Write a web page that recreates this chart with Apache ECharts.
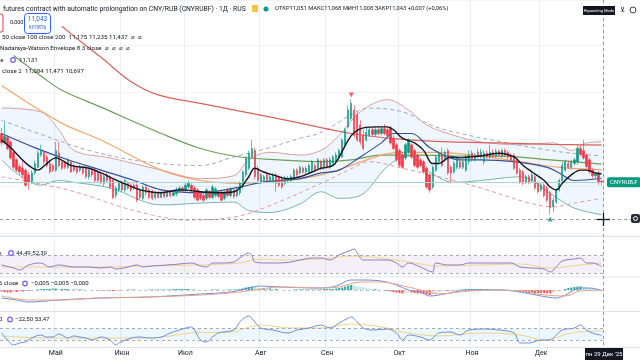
<!DOCTYPE html>
<html><head><meta charset="utf-8">
<script src="https://cdn.jsdelivr.net/npm/echarts@6.0.0/dist/echarts.min.js"></script>
<style>html,body{margin:0;padding:0;background:#fff}#c{width:640px;height:360px}</style>
</head><body><div id="c"></div>
<script>
// ---- daily candles [open, close, low, high] ----
const candles = [
[11.56,11.46,11.43,11.62],[11.46,11.53,11.44,11.68],[11.52,11.40,11.38,11.54],[11.47,11.30,11.28,11.49],[11.36,11.20,11.18,11.38],[11.28,11.17,11.15,11.30],[11.21,11.15,11.12,11.24],[11.19,11.12,11.08,11.28],[11.17,11.01,10.99,11.19],[11.12,11.04,10.96,11.15],
[11.04,11.14,11.02,11.17],[11.14,11.24,11.12,11.27],[11.20,11.35,11.19,11.38],[11.33,11.38,11.31,11.44],[11.36,11.26,11.23,11.38],[11.31,11.22,11.20,11.33],[11.24,11.15,11.13,11.28],[11.22,11.17,11.15,11.24],[11.17,11.38,11.15,11.47],[11.35,11.22,11.20,11.47],
[11.26,11.19,11.17,11.28],[11.24,11.20,11.18,11.27],[11.20,11.28,11.18,11.30],[11.26,11.15,11.14,11.28],[11.22,11.17,11.15,11.24],[11.20,11.15,11.13,11.22],[11.17,11.20,11.15,11.23],[11.19,11.14,11.12,11.21],[11.19,11.10,11.08,11.21],[11.10,11.17,11.07,11.19],
[11.17,11.12,11.10,11.19],[11.17,11.06,11.04,11.19],[11.14,11.06,11.04,11.16],[11.12,11.04,11.02,11.14],[11.03,11.10,11.00,11.12],[11.12,11.06,11.04,11.14],[11.10,10.99,10.97,11.12],[11.06,10.88,10.86,11.08],[10.90,10.98,10.87,11.00],[10.96,11.03,10.94,11.05],
[11.04,10.96,10.94,11.06],[10.96,11.06,10.94,11.08],[11.03,10.98,10.96,11.05],[11.01,10.96,10.94,11.03],[11.01,10.98,10.96,11.03],[11.01,10.85,10.83,11.03],[10.96,10.88,10.86,10.98],[10.87,10.99,10.85,11.01],[10.99,10.93,10.90,11.01],[10.96,10.88,10.86,10.98],
[10.94,10.87,10.85,10.96],[10.88,10.93,10.86,10.95],[10.93,10.88,10.87,10.95],[10.88,10.93,10.87,10.96],[10.93,10.89,10.87,10.95],[10.89,10.94,10.88,10.96],[10.94,10.90,10.88,10.96],[10.90,10.93,10.89,10.96],[10.92,10.96,10.89,10.99],[10.95,10.98,10.93,11.00],
[10.98,10.95,10.93,11.00],[10.96,11.01,10.94,11.04],[10.99,11.03,10.97,11.06],[11.01,10.96,10.94,11.03],[10.98,10.88,10.86,11.00],[10.96,10.85,10.84,10.98],[10.92,10.87,10.85,10.94],[10.90,10.85,10.83,10.93],[10.87,10.96,10.85,10.98],[10.94,10.88,10.86,10.96],
[10.88,10.99,10.86,11.01],[10.90,10.97,10.88,10.99],[10.94,10.89,10.87,10.96],[10.93,10.85,10.84,10.95],[10.87,10.93,10.85,10.95],[10.96,10.90,10.88,10.98],[10.90,10.97,10.88,10.99],[10.96,10.89,10.87,10.98],[10.90,10.96,10.88,10.98],[10.93,11.03,10.90,11.05],
[10.99,11.15,10.97,11.17],[11.12,11.30,11.10,11.32],[11.19,11.35,11.17,11.38],[11.31,11.40,11.30,11.49],[11.38,11.10,11.07,11.41],[11.19,11.06,11.04,11.22],[11.04,11.12,11.02,11.14],[11.06,11.10,11.04,11.12],[11.12,11.06,11.04,11.14],[11.06,11.10,11.04,11.12],
[11.06,11.12,11.04,11.14],[11.12,11.03,10.94,11.14],[11.10,11.01,10.99,11.12],[11.08,10.99,10.97,11.11],[11.03,11.08,11.01,11.11],[11.06,11.08,11.04,11.11],[11.06,11.10,11.04,11.12],[11.08,11.17,11.06,11.19],[11.17,11.12,11.10,11.19],[11.14,11.20,11.12,11.22],
[11.19,11.15,11.13,11.21],[11.15,11.19,11.13,11.21],[11.15,11.22,11.13,11.24],[11.17,11.26,11.15,11.28],[11.22,11.17,11.15,11.24],[11.19,11.28,11.17,11.30],[11.26,11.19,11.17,11.28],[11.19,11.28,11.17,11.30],[11.28,11.20,11.18,11.30],[11.20,11.28,11.18,11.31],
[11.24,11.31,11.22,11.33],[11.26,11.33,11.23,11.36],[11.30,11.38,11.28,11.40],[11.31,11.49,11.30,11.51],[11.44,11.60,11.41,11.62],[11.63,11.81,11.61,11.86],[11.72,11.88,11.70,11.92],[11.81,11.54,11.52,11.86],[11.76,11.49,11.47,11.79],[11.65,11.47,11.44,11.70],
[11.54,11.40,11.38,11.60],[11.49,11.57,11.47,11.62],[11.54,11.60,11.52,11.63],[11.60,11.55,11.53,11.63],[11.55,11.60,11.53,11.64],[11.60,11.56,11.54,11.63],[11.56,11.61,11.54,11.64],[11.61,11.56,11.54,11.66],[11.60,11.54,11.52,11.63],[11.62,11.46,11.44,11.64],
[11.51,11.40,11.38,11.54],[11.44,11.28,11.26,11.46],[11.38,11.22,11.20,11.40],[11.33,11.20,11.18,11.36],[11.30,11.44,11.28,11.46],[11.36,11.49,11.34,11.51],[11.44,11.31,11.29,11.46],[11.38,11.22,11.20,11.40],[11.33,11.20,11.18,11.35],[11.28,11.22,11.20,11.30],
[11.26,11.15,11.13,11.28],[11.19,10.99,10.97,11.21],[11.12,10.96,10.93,11.14],[10.99,11.20,10.97,11.22],[11.17,11.31,11.15,11.33],[11.26,11.35,11.23,11.37],[11.33,11.22,11.20,11.41],[11.28,11.36,11.26,11.38],[11.38,11.14,11.12,11.40],[11.20,11.14,11.03,11.22],
[11.15,11.24,11.13,11.27],[11.20,11.28,11.18,11.30],[11.26,11.20,11.18,11.28],[11.20,11.26,11.18,11.28],[11.17,11.31,11.15,11.33],[11.26,11.33,11.23,11.38],[11.35,11.28,11.26,11.38],[11.28,11.33,11.26,11.35],[11.36,11.31,11.29,11.40],[11.31,11.36,11.29,11.40],
[11.26,11.35,11.23,11.38],[11.35,11.31,11.29,11.38],[11.31,11.36,11.29,11.44],[11.36,11.32,11.30,11.39],[11.32,11.37,11.30,11.40],[11.37,11.33,11.31,11.39],[11.32,11.38,11.30,11.40],[11.38,11.33,11.31,11.40],[11.36,11.31,11.29,11.38],[11.33,11.28,11.26,11.35],
[11.33,11.19,11.17,11.35],[11.26,11.14,11.12,11.28],[11.17,11.04,11.02,11.19],[11.15,11.03,11.01,11.17],[11.04,11.10,11.02,11.12],[11.10,11.04,11.02,11.12],[11.06,11.12,11.04,11.15],[11.10,10.98,10.96,11.12],[11.03,10.94,10.92,11.05],[10.96,11.01,10.94,11.03],
[11.01,10.90,10.88,11.03],[10.98,10.85,10.83,11.00],[10.93,10.77,10.70,10.95],[10.78,10.85,10.72,10.88],[10.83,10.96,10.81,10.98],[10.96,11.06,10.94,11.08],[11.06,11.22,11.04,11.26],[11.17,11.26,11.15,11.28],[11.24,11.20,11.18,11.27],[11.20,11.26,11.18,11.28],
[11.24,11.28,11.22,11.30],[11.26,11.40,11.23,11.44],[11.40,11.34,11.32,11.43],[11.38,11.30,11.28,11.49],[11.33,11.21,11.19,11.35],[11.28,11.15,11.13,11.30],[11.17,11.11,11.08,11.19],[11.11,11.13,11.08,11.15],[11.14,11.036,11.01,11.16],[11.051,11.043,11.008,11.068]
];
// month tick labels: bar index -> label
const monthTicks = {18:'Май',40:'Июн',61:'Июл',86:'Авг',108:'Сен',132:'Окт',156:'Ноя',179:'Дек'};
// moving averages [barIndex, value]
const ma50  = [[0,12.07],[20,11.67],[33,11.49],[53,11.17],[66,11.06],[79,11.03],[92,11.05],[106,11.12],[116,11.22],[126,11.33],[132,11.36],[145,11.36],[159,11.32],[172,11.26],[185,11.20],[199,11.175]];
const ma100 = [[4,12.39],[14,12.15],[20,12.02],[33,11.84],[53,11.56],[66,11.40],[79,11.31],[92,11.28],[106,11.26],[116,11.28],[126,11.33],[139,11.33],[152,11.32],[165,11.32],[182,11.28],[199,11.235]];
const ma200 = [[20,12.70],[27,12.52],[33,12.37],[43,12.11],[52,11.97],[66,11.88],[82,11.78],[99,11.67],[116,11.56],[132,11.50],[149,11.47],[165,11.46],[182,11.445],[199,11.437]];
const emaFast = [[0,11.49],[3,11.41],[6,11.31],[9,11.22],[12,11.17],[15,11.24],[18,11.30],[23,11.22],[29,11.19],[33,11.14],[37,11.08],[42,11.01],[46,10.96],[53,10.93],[59,10.96],[66,10.94],[72,10.93],[77,10.94],[80,11.01],[82,11.10],[84,11.19],[87,11.15],[90,11.12],[95,11.08],[99,11.10],[103,11.15],[106,11.19],[110,11.22],[112,11.31],[115,11.49],[117,11.57],[120,11.62],[125,11.63],[128,11.63],[130,11.60],[133,11.51],[137,11.46],[140,11.38],[143,11.24],[145,11.24],[149,11.31],[152,11.30],[155,11.31],[159,11.32],[165,11.35],[170,11.31],[173,11.22],[176,11.15],[180,11.06],[182,10.99],[184,10.96],[186,11.03],[189,11.12],[192,11.17],[194,11.17],[197,11.14],[199,11.131]];
// Bollinger bands (20, 2)
const bbBasis = [[0,11.56],[11,11.41],[22,11.28],[33,11.17],[44,11.06],[53,10.96],[66,10.93],[79,10.99],[86,11.04],[92,11.06],[99,11.08],[106,11.14],[112,11.17],[119,11.31],[126,11.46],[130,11.56],[136,11.56],[142,11.41],[148,11.31],[152,11.28],[159,11.28],[170,11.26],[181,11.20],[185,11.14],[190,11.06],[199,11.084]];
const bbUpper = [[0,11.83],[13,11.79],[19,11.60],[24,11.38],[36,11.30],[53,11.17],[66,11.08],[77,11.11],[82,11.28],[89,11.36],[99,11.33],[106,11.38],[112,11.54],[119,11.79],[128,11.92],[135,11.81],[141,11.65],[150,11.54],[159,11.47],[172,11.44],[183,11.46],[189,11.38],[194,11.46],[199,11.471]];
const bbLower = [[0,11.28],[13,11.01],[19,11.06],[24,11.04],[36,10.98],[53,10.80],[66,10.82],[77,10.83],[82,10.74],[89,10.72],[99,10.81],[106,10.94],[112,10.87],[119,10.90],[128,11.21],[135,11.32],[141,11.17],[150,11.04],[159,11.06],[172,11.10],[183,10.90],[189,10.78],[194,10.73],[199,10.697]];
// Nadaraya-Watson envelope
const nwUpper = [[0,11.70],[14,11.54],[29,11.38],[47,11.26],[66,11.22],[77,11.31],[88,11.40],[99,11.51],[106,11.57],[117,11.78],[122,11.83],[133,11.79],[144,11.63],[155,11.54],[166,11.47],[178,11.40],[189,11.35],[199,11.32]];
const nwLower = [[0,11.10],[22,10.96],[44,10.74],[62,10.64],[77,10.67],[88,10.78],[106,11.03],[117,11.20],[122,11.26],[133,11.19],[150,11.06],[161,10.96],[174,10.83],[183,10.78],[190,10.82],[199,10.87]];
const signalUp = [[116,11.97]];
const signalDown = [[182,10.65]];
const lastClose = 11.043;
// RSI
const rsi = [[0,47.8],[4,41.1],[6,36.7],[9,47.8],[13,52.2],[16,43.3],[19,47.8],[24,43.3],[29,43.3],[33,41.1],[36,43.3],[38,38.9],[42,43.3],[45,47.8],[47,43.3],[50,45.6],[55,47.8],[59,50.0],[63,52.2],[66,45.6],[68,43.3],[70,52.2],[73,52.2],[77,54.4],[79,63.3],[82,74.4],[83,70.0],[84,54.4],[88,52.2],[92,52.2],[96,54.4],[99,58.9],[103,63.3],[106,63.3],[109,58.9],[112,70.0],[116,81.1],[117,83.3],[118,74.4],[120,58.9],[123,58.9],[128,58.9],[131,52.2],[133,43.3],[135,52.2],[139,43.3],[141,36.7],[143,32.2],[144,52.2],[148,47.8],[152,47.8],[155,52.2],[159,52.2],[164,52.2],[169,52.2],[172,43.3],[176,41.1],[180,38.9],[182,32.2],[184,43.3],[186,56.7],[190,61.1],[192,63.3],[194,52.2],[196,52.2],[199,44.49]];
const rsiMa = [[0,43.3],[16,43.3],[33,43.3],[49,45.6],[66,47.8],[79,52.2],[86,61.1],[92,58.9],[106,61.1],[116,67.8],[126,63.3],[135,54.4],[145,45.6],[159,47.8],[172,50.0],[182,41.1],[189,45.6],[199,52.39]];
// MACD
const macdLine = [[0,-0.16],[5,-0.20],[9,-0.24],[19,-0.20],[33,-0.16],[49,-0.14],[66,-0.08],[76,-0.04],[82,0.04],[86,0.08],[92,0.06],[106,0.04],[111,0.08],[116,0.20],[119,0.20],[126,0.18],[131,0.10],[135,0.00],[139,-0.04],[142,-0.12],[147,-0.08],[155,0.00],[165,0.00],[172,-0.04],[179,-0.12],[184,-0.16],[187,-0.10],[192,0.04],[195,0.04],[199,-0.005]];
const macdSignal = [[0,-0.12],[9,-0.20],[19,-0.20],[33,-0.16],[49,-0.14],[66,-0.10],[79,-0.04],[86,0.02],[92,0.06],[106,0.04],[112,0.06],[119,0.16],[126,0.16],[132,0.10],[139,0.00],[145,-0.08],[152,-0.04],[162,0.00],[172,-0.02],[180,-0.10],[187,-0.12],[192,-0.02],[199,-0.005]];
const macdHist = [
-0.03,-0.04,-0.05,-0.05,-0.04,-0.04,-0.03,-0.03,-0.02,-0.02,
-0.01,0.00,0.01,0.02,0.02,0.02,0.02,0.03,0.03,0.02,
0.02,0.02,0.02,0.01,0.01,0.01,0.01,0.01,0.00,0.00,
0.00,0.00,-0.01,-0.01,-0.01,-0.01,-0.02,-0.02,-0.01,-0.01,
0.00,0.00,0.01,0.01,0.01,0.00,0.00,0.00,0.00,0.01,
0.01,0.01,0.01,0.01,0.01,0.01,0.01,0.02,0.02,0.02,
0.02,0.02,0.02,0.01,0.01,0.00,0.00,0.00,0.00,0.00,
0.01,0.01,0.01,0.00,0.00,0.01,0.01,0.01,0.01,0.02,
0.03,0.05,0.06,0.07,0.06,0.05,0.04,0.04,0.03,0.03,
0.02,0.02,0.01,0.00,0.00,0.00,0.00,0.01,0.01,0.01,
0.01,0.01,0.01,0.01,0.01,0.01,0.01,0.02,0.02,0.02,
0.02,0.03,0.04,0.05,0.07,0.09,0.10,0.09,0.07,0.06,
0.05,0.04,0.03,0.02,0.02,0.01,0.00,-0.01,-0.02,-0.03,
-0.04,-0.05,-0.06,-0.07,-0.06,-0.05,-0.05,-0.06,-0.07,-0.07,
-0.08,-0.09,-0.10,-0.08,-0.06,-0.04,-0.03,-0.02,-0.02,-0.01,
-0.01,0.00,0.01,0.01,0.02,0.02,0.02,0.02,0.02,0.02,
0.02,0.02,0.02,0.01,0.01,0.01,0.01,0.00,0.00,-0.01,
-0.02,-0.03,-0.04,-0.05,-0.05,-0.05,-0.05,-0.06,-0.06,-0.06,
-0.06,-0.07,-0.07,-0.06,-0.04,-0.02,0.00,0.02,0.04,0.05,
0.06,0.07,0.07,0.06,0.05,0.04,0.03,0.02,0.01,-0.005];
// CCI
const cci = [[0,16.7],[2,-100],[4,-183],[6,-150],[8,-133],[10,-67],[13,-17],[15,-50],[17,-50],[19,0],[22,-67],[24,-33],[26,-50],[28,-67],[30,-100],[33,-50],[36,-100],[38,-183],[39,-150],[43,-67],[46,-50],[49,-67],[53,-50],[56,16.7],[59,66.7],[63,116.7],[64,66.7],[66,-100],[68,-133],[70,-50],[72,16.7],[77,66.7],[79,200],[81,283],[82,300],[84,200],[86,100],[90,66.7],[95,16.7],[98,66.7],[102,100],[106,150],[109,100],[112,183],[115,267],[116,283],[118,200],[120,100],[123,66.7],[128,83.3],[131,16.7],[133,-100],[135,-16.7],[139,-50],[142,-100],[145,16.7],[149,33.3],[152,-16.7],[155,66.7],[161,83.3],[165,66.7],[170,16.7],[172,-150],[175,-150],[179,-100],[182,-100],[184,-16.7],[186,66.7],[190,100],[192,150],[194,66.7],[196,16.7],[199,-22.5]];
const cciMa = [[0,-33],[16,-67],[33,-67],[49,-67],[63,17],[76,33],[86,150],[96,100],[106,100],[116,167],[126,117],[135,17],[145,-33],[159,17],[172,-17],[180,-100],[189,17],[199,53.47]];

const cats = candles.map((_, i) => i);
const isMonth = (i) => monthTicks[i] !== undefined;
const FONT = 'Roboto, "Liberation Sans", sans-serif';
const GRID_R = 37;

function xAx(gi, labels) {
  return {
    type: 'category', gridIndex: gi, data: cats, boundaryGap: true,
    axisLine: {show: false}, axisTick: {show: false},
    axisLabel: labels ? {show: true, interval: (i) => isMonth(i), formatter: (v, i) => monthTicks[i] || '',
      color: '#131722', fontSize: 7, fontFamily: FONT, margin: 3} : {show: false},
    splitLine: {show: true, interval: (i) => isMonth(i), lineStyle: {color: '#eceef3', width: 1}}
  };
}
function yAx(gi, min, max, split) {
  return {type: 'value', gridIndex: gi, min, max, scale: true,
    axisLine: {show: false}, axisTick: {show: false}, axisLabel: {show: false},
    splitLine: {show: !!split, lineStyle: {color: '#f3f4f7'}}};
}
function ln(data, color, xi, width, extra) {
  return Object.assign({type: 'line', data, xAxisIndex: xi, yAxisIndex: xi, showSymbol: false,
    smooth: 0.35, silent: true, lineStyle: {color, width: width || 1}, z: 3}, extra || {});
}

const chart = echarts.init(document.getElementById('c'), null, {renderer: 'canvas'});
const option = {
  animation: false,
  backgroundColor: '#ffffff',
  grid: [
    {left: 0, right: GRID_R, top: 0, height: 235},
    {left: 0, right: GRID_R, top: 238, height: 38},
    {left: 0, right: GRID_R, top: 278, height: 33},
    {left: 0, right: GRID_R, top: 312, height: 35}
  ],
  xAxis: [xAx(0, false), xAx(1, false), xAx(2, false), xAx(3, true)],
  yAxis: [yAx(0, 10.48, 12.98, true), yAx(1, 23.3, 107.8), yAx(2, -0.42, 0.24), yAx(3, -216.7, 366.7)],
  series: [
    {type: 'custom', xAxisIndex: 0, yAxisIndex: 0, silent: true, z: 1, data: [[0, bbUpper[0][1]]],
      renderItem: (params, api) => {
        const top = bbUpper.map(p => api.coord(p));
        const bot = bbLower.map(p => api.coord(p)).reverse();
        return {type: 'polygon', shape: {points: top.concat(bot), smooth: 0.3}, style: {fill: 'rgba(66,140,230,0.08)'}};
      }},
    ln(bbUpper, '#d9a0a0', 0, 1),
    ln(bbLower, '#79b4ad', 0, 1),
    ln(nwUpper, '#9aaac2', 0, 1, {lineStyle: {color: '#9aaac2', width: 1, type: [4, 3]}}),
    ln(nwLower, '#e59a9a', 0, 1, {lineStyle: {color: '#e59a9a', width: 1, type: [4, 3]}}),
    ln(ma200, '#d9625d', 0, 1.2),
    ln(ma100, '#6e9f5a', 0, 1.2),
    ln(ma50, '#f2a772', 0, 1.2),
    ln(bbBasis, '#34509c', 0, 1.2),
    {type: 'candlestick', xAxisIndex: 0, yAxisIndex: 0, data: candles, barWidth: 1.8, z: 4,
      itemStyle: {color: '#089981', color0: '#f23645', borderColor: '#089981', borderColor0: '#f23645', borderWidth: 0.6},
      markLine: {symbol: 'none', silent: true, animation: false,
        lineStyle: {color: '#a9d6cc', type: 'solid', width: 1},
        label: {show: true, position: 'end', formatter: 'CNYRUB,F', color: '#fff', backgroundColor: '#089981',
          fontSize: 6, fontFamily: FONT, padding: [2, 3, 2, 3], borderRadius: 2, distance: 4},
        data: [{yAxis: lastClose}]}},
    ln(emaFast, '#131722', 0, 1.4, {z: 5}),
    {type: 'scatter', xAxisIndex: 0, yAxisIndex: 0, data: signalUp, symbol: 'triangle', symbolRotate: 180, symbolSize: 5,
      itemStyle: {color: '#f23645'}, silent: true, z: 6},
    {type: 'scatter', xAxisIndex: 0, yAxisIndex: 0, data: signalDown, symbol: 'triangle', symbolSize: 5,
      itemStyle: {color: '#089981'}, silent: true, z: 6},
    // RSI
    ln(rsi, '#8e7cc3', 1, 1, {
      markArea: {silent: true, itemStyle: {color: 'rgba(126,87,194,0.09)'}, data: [[{yAxis: 30}, {yAxis: 70}]]},
      markLine: {symbol: 'none', silent: true, label: {show: false},
        lineStyle: {color: '#9598a1', type: [3, 3], width: 0.8}, data: [{yAxis: 70}, {yAxis: 30}]}}),
    ln(rsiMa, '#f2d48a', 1, 1, {z: 2}),
    // MACD
    {type: 'bar', xAxisIndex: 2, yAxisIndex: 2, data: macdHist, barWidth: 2, silent: true, z: 2,
      itemStyle: {color: (p) => {
        const v = p.value, prev = p.dataIndex > 0 ? macdHist[p.dataIndex - 1] : 0;
        if (v >= 0) return v >= prev ? '#26a69a' : '#b2dfdb';
        return v <= prev ? '#ff5252' : '#ffcdd2';
      }},
      markLine: {symbol: 'none', silent: true, label: {show: false},
        lineStyle: {color: '#b2b5be', type: [3, 3], width: 0.8}, data: [{yAxis: 0}]}},
    ln(macdLine, '#6d8fdc', 2, 1),
    ln(macdSignal, '#f0a183', 2, 1),
    // CCI
    ln(cci, '#6d8fdc', 3, 1, {
      markArea: {silent: true, itemStyle: {color: 'rgba(33,150,243,0.09)'}, data: [[{yAxis: -100}, {yAxis: 100}]]},
      markLine: {symbol: 'none', silent: true, label: {show: false},
        lineStyle: {color: '#9598a1', type: [3, 3], width: 0.8}, data: [{yAxis: 100}, {yAxis: -100}]}}),
    ln(cciMa, '#f2d48a', 3, 1, {z: 2})
  ],
  graphic: []
};

const T = (x, y, text, rich, size) => ({type: 'text', x, y, silent: true, z: 100,
  style: {text, rich, font: (size || 6.5) + 'px ' + FONT, fill: '#131722', verticalAlign: 'middle'}});
const rs = (c, s) => ({color: c, fontSize: s || 6.5, fontFamily: FONT});
const gear = (x, y) => ({type: 'circle', shape: {cx: x, cy: y, r: 2.3}, silent: true, z: 100,
  style: {fill: '#fff', stroke: '#7b5cf0', lineWidth: 1.2}});
const hline = (y, x1, x2, col) => ({type: 'line', shape: {x1, y1: y, x2, y2: y}, silent: true, z: 90, style: {stroke: col, lineWidth: 1}});

option.graphic = [
  hline(236.5, 0, 640, '#e0e3eb'), hline(277, 0, 640, '#e0e3eb'), hline(311.5, 0, 640, '#e0e3eb'), hline(347.5, 0, 640, '#e0e3eb'),
  // crosshair
  {type: 'line', shape: {x1: 603.5, y1: 0, x2: 603.5, y2: 347}, silent: true, z: 90, style: {stroke: '#9598a1', lineWidth: 1, lineDash: [3, 3]}},
  {type: 'line', shape: {x1: 0, y1: 219.5, x2: 640, y2: 219.5}, silent: true, z: 90, style: {stroke: '#9598a1', lineWidth: 1, lineDash: [3, 3]}},
  {type: 'line', shape: {x1: 597, y1: 219.5, x2: 610, y2: 219.5}, silent: true, z: 101, style: {stroke: '#131722', lineWidth: 1.3}},
  {type: 'line', shape: {x1: 603.5, y1: 213, x2: 603.5, y2: 226}, silent: true, z: 101, style: {stroke: '#131722', lineWidth: 1.3}},
  {type: 'rect', shape: {x: 631, y: 214, width: 9, height: 9, r: 2}, silent: true, z: 101, style: {fill: '#2a2e39'}},
  {type: 'circle', shape: {cx: 635.5, cy: 218.5, r: 2}, silent: true, z: 102, style: {fill: 'none', stroke: '#fff', lineWidth: 1}},
  // title rows
  T(3, 9, 'futures contract with automatic prolongation on CNY/RUB (CNYRUBF) · 1Д · RUS', null, 6.8),
  {type: 'rect', shape: {x: 252, y: 5, width: 6, height: 7}, silent: true, z: 100, style: {fill: '#f6c343'}},
  {type: 'circle', shape: {cx: 266, cy: 9, r: 2.5}, silent: true, z: 100, style: {fill: '#089981'}},
  T(275, 9, '{k|ОТКР}{g|11,051} {k|МАКС}{g|11,068} {k|МИН}{g|11,008} {k|ЗАКР}{g|11,043} {g|+0,007 (+0,06%)}',
    {k: rs('#131722', 5.7), g: rs('#089981', 5.7)}),
  {type: 'rect', shape: {x: -4, y: 14, width: 7, height: 18, r: 2}, silent: true, z: 100, style: {fill: '#fff', stroke: '#f23645', lineWidth: 1}},
  T(10, 23, '0,000', null, 5.5),
  {type: 'rect', shape: {x: 24.5, y: 13.5, width: 26, height: 20, r: 3}, silent: true, z: 100, style: {fill: '#fff', stroke: '#2962ff', lineWidth: 1}},
  {type: 'text', x: 37.5, y: 19.5, silent: true, z: 101, style: {text: '11,043', font: '6.5px ' + FONT, fill: '#2962ff', align: 'center', verticalAlign: 'middle'}},
  {type: 'text', x: 37.5, y: 27.5, silent: true, z: 101, style: {text: 'КУПИТЬ', font: '4.5px ' + FONT, fill: '#2962ff', align: 'center', verticalAlign: 'middle'}},
  T(2, 37.5, '{d|50 close 100 close 200}  {o|11,175} {gr|11,235} {r|11,437}  {n|⌀  ⌀}',
    {d: rs('#131722', 6.2), o: rs('#f0a050', 6.2), gr: rs('#43a047', 6.2), r: rs('#e53935', 6.2), n: rs('#787b86', 6.2)}),
  T(0, 48.5, '{d|Nadaraya-Watson Envelope 8 3 close}  {n|⌀  ⌀  ⌀  ⌀}', {d: rs('#131722', 6.2), n: rs('#787b86', 6.2)}),
  T(-3, 60, 'se', null, 6.2), gear(13, 60), T(19, 60, '11,131', null, 6.2),
  T(2, 71, '{d|close 2}  {b|11,084} {r|11,471} {g|10,697}', {d: rs('#131722', 6.2), b: rs('#2962ff', 6.2), r: rs('#f23645', 6.2), g: rs('#089981', 6.2)}),
  // pane legends
  T(-2, 253, 'e', null, 6), gear(11, 253), T(16, 253, '{p|44,49} {y|52,39}', {p: rs('#7e57c2', 6), y: rs('#e0b23a', 6)}),
  T(-1, 283.5, '6 close', null, 6), gear(25, 283.5), T(31, 283.5, '{r|−0,005} {b|−0,005} {o|−0,000}', {r: rs('#ef5350', 6), b: rs('#2962ff', 6), o: rs('#ff6d00', 6)}),
  T(-1, 319.5, '0', null, 6), gear(10, 319.5), T(15, 319.5, '{b|−22,50} {y|53,47}', {b: rs('#2962ff', 6), y: rs('#e0b23a', 6)}),
  // top-right
  {type: 'rect', shape: {x: 583, y: 6, width: 32, height: 9}, silent: true, z: 100, style: {fill: '#131722'}},
  {type: 'text', x: 599, y: 10.5, silent: true, z: 101, style: {text: 'Repainting Mode', font: '4px ' + FONT, fill: '#fff', align: 'center', verticalAlign: 'middle'}},
  {type: 'text', x: 622, y: 10, silent: true, z: 101, style: {text: '⊻', font: '7px ' + FONT, fill: '#131722', align: 'center', verticalAlign: 'middle'}},
  {type: 'circle', shape: {cx: 633, cy: 10, r: 3}, silent: true, z: 101, style: {fill: 'none', stroke: '#131722', lineWidth: 0.8}},
  // bottom-right date
  {type: 'rect', shape: {x: 585, y: 348, width: 38, height: 12}, silent: true, z: 100, style: {fill: '#131722'}},
  {type: 'text', x: 604, y: 354, silent: true, z: 101, style: {text: "пн 29 Дек '25", font: '6px ' + FONT, fill: '#fff', align: 'center', verticalAlign: 'middle'}}
];
chart.setOption(option);
</script>
</body></html>
